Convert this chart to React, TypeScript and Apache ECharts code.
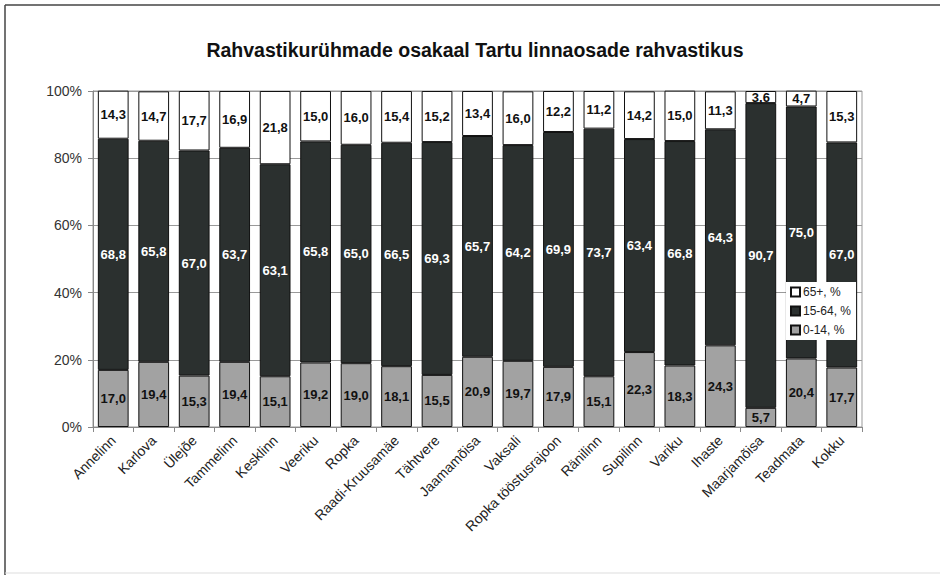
import React, { useEffect, useRef } from "react";
import * as echarts from "echarts";

const categories = [
  "Annelinn", "Karlova", "Ülejõe", "Tammelinn", "Kesklinn", "Veeriku", "Ropka",
  "Raadi-Kruusamäe", "Tähtvere", "Jaamamõisa", "Vaksali", "Ropka tööstusrajoon",
  "Ränilinn", "Supilinn", "Variku", "Ihaste", "Maarjamõisa", "Teadmata", "Kokku",
];
const age0to14 = [17.0, 19.4, 15.3, 19.4, 15.1, 19.2, 19.0, 18.1, 15.5, 20.9, 19.7, 17.9, 15.1, 22.3, 18.3, 24.3, 5.7, 20.4, 17.7];
const age15to64 = [68.8, 65.8, 67.0, 63.7, 63.1, 65.8, 65.0, 66.5, 69.3, 65.7, 64.2, 69.9, 73.7, 63.4, 66.8, 64.3, 90.7, 75.0, 67.0];
const age65plus = [14.3, 14.7, 17.7, 16.9, 21.8, 15.0, 16.0, 15.4, 15.2, 13.4, 16.0, 12.2, 11.2, 14.2, 15.0, 11.3, 3.6, 4.7, 15.3];
const yTicks = [0, 20, 40, 60, 80, 100];

const FONT = "'Liberation Sans', Arial, sans-serif";
const fmt = (v: number) => v.toFixed(1).replace(".", ",");

export default function App() {
  const ref = useRef<HTMLDivElement>(null);
  useEffect(() => {
    if (!ref.current) return;
    const chart = echarts.init(ref.current, undefined, { renderer: "svg" });
    const mkSeries = (name: string, data: number[], color: string, labelColor: string) => ({
      name,
      type: "bar",
      stack: "total",
      data,
      barWidth: "76%",
      itemStyle: { color, borderColor: "#111", borderWidth: 1 },
      label: {
        show: true,
        position: "inside",
        color: labelColor,
        fontFamily: FONT,
        fontWeight: "bold",
        fontSize: 13,
        formatter: (p: any) => fmt(p.value),
      },
    });
    chart.setOption({
      animation: false,
      backgroundColor: "#fff",
      title: {
        text: "Rahvastikurühmade osakaal Tartu linnaosade rahvastikus",
        left: 470,
        textAlign: "center",
        top: 35,
        textStyle: { fontFamily: FONT, fontWeight: "bold", fontSize: 19.5, color: "#111" },
      },
      legend: {
        data: ["65+, %", "15-64, %", "0-14, %"],
        orient: "vertical",
        left: 786,
        top: 282,
        padding: [4, 5, 4, 4],
        backgroundColor: "#fff",
        itemWidth: 9,
        itemHeight: 9,
        itemGap: 7,
        icon: "rect",
        textStyle: { fontFamily: FONT, fontSize: 12, color: "#222", padding: [0, 0, 0, -2] },
      },
      grid: {
        left: 93,
        right: 78,
        top: 91,
        bottom: 148,
        show: true,
        borderColor: "#999",
        borderWidth: 1,
      },
      xAxis: {
        type: "category",
        data: categories,
        axisLine: { show: true, lineStyle: { color: "#888" } },
        axisTick: { show: true, lineStyle: { color: "#888" } },
        axisLabel: {
          rotate: 45,
          interval: 0,
          margin: 11,
          fontFamily: FONT,
          fontSize: 14,
          color: "#222",
        },
      },
      yAxis: {
        type: "value",
        min: 0,
        max: 100,
        interval: 20,
        axisLine: { show: true, lineStyle: { color: "#888" } },
        axisTick: { show: true, lineStyle: { color: "#888" } },
        splitLine: { show: true, lineStyle: { color: "#999", width: 1 } },
        axisLabel: {
          fontFamily: FONT,
          fontSize: 14,
          color: "#333",
          margin: 11,
          formatter: (v: number) => (yTicks.includes(v) ? v + "%" : ""),
        },
      },
      graphic: [
        { type: "line", shape: { x1: 5, y1: 5, x2: 940, y2: 5 }, style: { stroke: "#444", lineWidth: 1.5 } },
        { type: "line", shape: { x1: 5, y1: 5, x2: 5, y2: 575 }, style: { stroke: "#444", lineWidth: 1.5 } },
        { type: "line", shape: { x1: 5, y1: 573, x2: 940, y2: 573 }, style: { stroke: "#ddd", lineWidth: 1 } },
      ],
      series: [
        mkSeries("0-14, %", age0to14, "#a2a2a2", "#111"),
        mkSeries("15-64, %", age15to64, "#2b302f", "#fff"),
        mkSeries("65+, %", age65plus, "#ffffff", "#111"),
      ],
    });
    return () => chart.dispose();
  }, []);
  return <div ref={ref} style={{ width: 940, height: 575, position: "absolute", left: 0, top: 0 }} />;
}
